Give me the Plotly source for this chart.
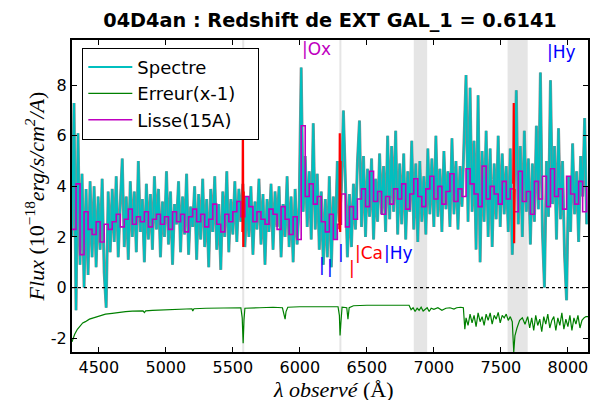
import numpy as np
import plotly.graph_objects as go

# ---------------- data ----------------
wl_start, wl_step = 4300, 15
flux = [
    2.0, 7.3, -0.9, 6.1, 0.9, 4.5, 0.0, 3.9, 0.5, 4.2, 1.2, 4.0, 0.8, 3.6, 1.5, 4.3, 0.6, -0.8, 3.8, 1.4,
    3.9, 1.8, 4.4, 1.2, 3.3, 5.1, 1.6, 3.6, 1.1, 4.2, 2.0, 3.8, 1.4, 5.0, 2.2, 3.5, 1.0, 4.1, 1.9, 3.7,
    1.5, 4.4, 2.3, 3.9, 1.2, 3.4, 2.0, 4.6, 1.7, 3.8, 0.9, 3.3, 2.5, 4.2, 1.4, 3.6, 2.1, 4.5, 1.3, 3.2,
    2.4, 4.0, 1.1, 3.7, 1.9, 4.3, 1.6, 3.5, 0.8, 3.9, 2.2, 4.4, 1.5, 3.3, 0.7, 3.8, 2.0, 4.6, 1.4, 3.5,
    2.1, 4.2, 1.8, 3.9, 2.6, 4.1, 1.6, 3.6, 2.0, 4.0, 1.3, 3.4, 2.3, 4.3, 1.7, 3.7, 0.9, 3.5, 2.2, 4.1,
    1.5, 3.8, 2.4, 4.0, 1.2, 3.3, 2.0, 4.4, 1.6, 3.6, 1.0, 3.9, 1.7, 3.2, 8.7, 3.0, 5.2, 2.4, 4.6, 1.9,
    6.5, 2.3, 4.5, 1.5, 3.8, 0.9, 3.5, 1.2, 4.4, 0.8, 3.6, 1.9, 5.0, 2.6, 3.9, 7.0, 4.2, 1.2, 3.7, 1.6,
    4.1, 2.3, 5.0, 6.6, 2.4, 5.2, 2.0, 4.7, 2.8, 5.1, 1.9, 4.3, 2.6, 5.3, 2.9, 4.8, 2.2, 6.0, 2.7, 5.6,
    3.0, 6.2, 2.1, 4.9, 2.5, 5.3, 1.9, 4.6, 3.0, 5.8, 2.3, 4.9, 1.8, 5.0, 2.6, 4.4, 2.1, 5.5, 2.9, 5.1,
    2.4, 6.0, 2.8, 4.7, 2.2, 5.4, 3.1, 4.6, 2.4, 5.9, 2.9, 5.0, 2.3, 4.8, 3.2, 6.3, 8.4, 2.6, 7.9, 3.0,
    5.8, 1.5, 7.6, 1.0, 5.4, 2.6, 6.2, 2.0, 5.5, 1.6, 4.9, 2.7, 6.0, 2.4, 5.3, 2.9, 4.8, 2.2, 5.5, 1.3,
    4.0, 7.8, 2.5, 5.6, 2.0, 6.2, 3.0, 5.1, 1.7, 4.9, 2.6, 6.4, 3.1, 8.5, 2.2, 0.0, 5.0, 2.8, 8.2, 3.3,
    5.6, 1.9, 6.3, 2.7, 5.0, 1.3, -0.5, 4.4, 2.2, 5.7, 2.9, 4.6, 1.8, 5.2, 3.6, 6.7, 2.5,
]
wavelength = np.arange(len(flux)) * wl_step + wl_start

smooth_start, smooth_step = 4300, 30
smooth = [
    2.3, 4.1, 1.3, 3.0, 2.3, 2.1, 2.6, 1.8, 2.5, 2.3,
    2.6, 2.9, 2.4, 2.7, 3.1, 2.5, 2.8, 2.6, 3.0, 2.4,
    2.7, 2.9, 2.5, 2.8, 2.3, 3.0, 2.6, 2.9, 2.2, 2.8,
    3.1, 2.6, 2.9, 2.4, 2.7, 3.3, 2.5, 2.2, 2.9, 2.6,
    3.0, 3.4, 2.8, 3.6, 3.2, 2.6, 3.0, 2.7, 2.5, 3.1,
    2.9, 2.3, 3.2, 2.7, 2.1, 2.8, 1.9, 6.4, 3.6, 4.1,
    3.3, 3.6, 2.6, 2.2, 2.9, 1.9, 2.5, 3.7, 2.4, 3.2,
    2.7, 3.5, 3.9, 3.2, 4.6, 3.4, 3.8, 2.9, 3.6, 3.3,
    3.9, 3.5, 4.1, 3.1, 3.7, 4.3, 3.6, 3.2, 3.9, 4.4,
    3.5, 4.0, 3.3, 3.8, 4.5, 3.4, 3.9, 3.6, 4.7, 4.1,
    3.7, 3.2, 4.8, 3.5, 4.0, 3.7, 3.3, 4.2, 3.5, 3.9,
    3.0, 4.6, 3.4, 3.8, 2.9, 4.2, 3.5, 4.4, 3.2, 4.7,
    3.6, 3.9, 3.1, 4.4, 3.7, 3.3, 4.2, 3.0, 4.0,
]
smooth_wl = np.arange(len(smooth)) * smooth_step + smooth_start

err_wl = [4300, 4310, 4320, 4340, 4360, 4380, 4400, 4430, 4460, 4500, 4550, 4600, 4650, 4700,
          4750, 4800, 4830, 4840, 4850, 4900, 5000, 5100, 5195, 5201, 5210, 5300, 5400, 5500,
          5560, 5570, 5577, 5583, 5590, 5700, 5800, 5870, 5880, 5890, 5897, 5910, 6000, 6100,
          6200, 6285, 6295, 6300, 6306, 6315, 6350, 6359, 6368, 6400, 6500, 6600, 6700, 6815,
          6830, 6845, 6860, 6875, 6890, 6905, 6920, 6935, 6950, 6965, 6980, 7000, 7030, 7060,
          7090, 7120, 7150, 7170, 7200, 7220, 7231, 7240, 7255, 7270, 7285, 7300, 7315, 7330,
          7345, 7360, 7375, 7390, 7405, 7420, 7435, 7450, 7465, 7480, 7495, 7510, 7525, 7540,
          7555, 7570, 7585, 7596, 7605, 7620, 7640, 7660, 7680, 7700, 7715, 7730, 7745, 7760,
          7775, 7790, 7805, 7820, 7835, 7850, 7865, 7880, 7895, 7910, 7925, 7940, 7955, 7970,
          7985, 8000, 8015, 8030, 8045, 8060, 8075, 8090, 8105, 8120, 8135, 8150]
err = [-2.15, -2.0, -1.85, -1.65, -1.5, -1.4, -1.35, -1.25, -1.2, -1.12, -1.05, -1.02, -0.98, -0.95,
       -0.93, -0.92, -0.92, -0.99, -0.92, -0.9, -0.88, -0.86, -0.84, -0.93, -0.84, -0.82, -0.81, -0.8,
       -0.8, -1.2, -2.2, -1.3, -0.82, -0.8, -0.78, -0.8, -1.05, -1.25, -0.95, -0.78, -0.76, -0.75,
       -0.75, -0.76, -1.1, -1.9, -1.4, -0.78, -0.8, -1.25, -0.8, -0.72, -0.7, -0.7, -0.7, -0.7,
       -0.88, -0.8, -0.95, -0.82, -0.9, -0.78, -0.93, -0.85, -0.8, -0.95, -0.82, -0.86, -0.8, -0.9,
       -0.82, -0.8, -0.85, -0.8, -0.78, -0.8, -1.65, -1.2, -1.5, -1.05, -1.4, -1.1, -1.55, -1.0,
       -1.35, -1.15, -1.5, -1.05, -1.3, -1.0, -1.45, -1.1, -1.25, -0.98, -1.4, -1.1, -1.2, -1.05,
       -1.3, -1.15, -1.35, -2.55, -1.9, -1.6, -1.3, -1.2, -1.45, -1.15, -1.6, -1.2, -1.7, -1.1,
       -1.5, -1.25, -1.75, -1.15, -1.45, -1.05, -1.6, -1.3, -1.15, -1.7, -1.2, -1.5, -1.0, -1.65,
       -1.25, -1.55, -1.1, -1.7, -1.2, -1.45, -1.1, -1.6, -1.3, -1.2, -1.15, -1.15]

bad_wl = [5572, 5575, 5578, 5581, None, 6295, 6298, 6301, 6304, None, 7592, 7596, 7599, 7602]
bad_flux = [2.2, 6.5, 1.6, 3.8, None, 2.3, 6.1, 2.2, 5.0, None, 4.1, 7.3, 1.75, 3.9]

bands = [(5570, 5585), (6295, 6310), (6850, 6950), (7550, 7700)]

line_labels = [
    ("|Ox", 6001, 9.44, "#BF00BF"),
    ("|Hy", 7827, 9.3, "#0000FF"),
    ("|", 6130, 0.88, "#0000FF"),
    ("|", 6190, 0.80, "#0000FF"),
    ("|", 6270, 1.40, "#0000FF"),
    ("|", 6349, 0.76, "#FF0000"),
    ("|Ca", 6398, 1.36, "#FF0000"),
    ("|Hy", 6610, 1.36, "#0000FF"),
]

x_range = [4300, 8150]
y_range = [-2.55, 9.79]
y_ticks = [-2, 0, 2, 4, 6, 8]
x_ticks = [4500, 5000, 5500, 6000, 6500, 7000, 7500, 8000]

title = "04D4an : Redshift de EXT GAL_1 = 0.6141"
x_title = "<i>λ observé</i> (Å)"

# ---------------- figure ----------------
fig = go.Figure()

fig.add_trace(go.Scatter(x=wavelength, y=flux, mode="lines",
                         line=dict(color="#8C8C8C", width=3), showlegend=False, hoverinfo="skip"))
fig.add_trace(go.Scatter(x=wavelength, y=flux, mode="lines", name="Spectre",
                         line=dict(color="#00BFBF", width=1.9)))
fig.add_trace(go.Scatter(x=err_wl, y=err, mode="lines", name="Erreur(x-1)\u00a0\u00a0\u00a0",
                         line=dict(color="#008000", width=1.2)))
fig.add_trace(go.Scatter(x=smooth_wl, y=smooth, mode="lines", name="Lisse(15A)",
                         line=dict(color="#BF00BF", width=1.6, shape="hv")))
fig.add_trace(go.Scatter(x=bad_wl, y=bad_flux, mode="lines",
                         line=dict(color="#FF0000", width=2.2), showlegend=False, connectgaps=False))

shapes = []
for a, b in bands:
    shapes.append(dict(type="rect", xref="x", yref="paper", x0=a, x1=b, y0=0, y1=1,
                       fillcolor="#E5E5E5", line=dict(width=0), layer="below"))
shapes.append(dict(type="line", xref="paper", yref="y", x0=0, x1=1, y0=0, y1=0,
                   line=dict(color="black", width=1.2, dash="dot"), layer="above"))

annotations = []
for txt, lx, ly, col in line_labels:
    annotations.append(dict(text=txt, x=lx, y=ly, xref="x", yref="y", xanchor="left",
                            yanchor="middle", showarrow=False,
                            font=dict(family="DejaVu Sans", size=17, color=col)))
# x-axis title placed below the tick labels
annotations.append(dict(text=x_title, x=0.506, y=-(389 - 352) / 312, xref="paper", yref="paper",
                        xanchor="center", yanchor="middle", showarrow=False,
                        font=dict(family="Liberation Serif", size=22, color="black")))

fig.update_layout(
    width=600, height=400,
    margin=dict(l=72, r=12, t=40, b=48, autoexpand=False),
    paper_bgcolor="white", plot_bgcolor="white",
    title=dict(text="<b>" + title + "</b>", x=0.5, xref="paper", y=1 - 20.5 / 400, yref="container",
               xanchor="center", yanchor="middle",
               font=dict(family="DejaVu Sans", size=19.3, color="black")),
    shapes=shapes, annotations=annotations,
    legend=dict(x=0.02, y=0.975, xanchor="left", yanchor="top", bgcolor="white",
                bordercolor="black", borderwidth=1,
                font=dict(family="DejaVu Sans", size=18, color="black"),
                tracegroupgap=0, itemwidth=44),
    showlegend=True,
)
axis_common = dict(showline=True, linecolor="black", linewidth=2, mirror="ticks",
                   ticks="inside", ticklen=5, tickwidth=1, tickcolor="black",
                   showgrid=False, zeroline=False, automargin=False,
                   tickfont=dict(family="DejaVu Sans", size=16, color="black"))
fig.update_xaxes(range=x_range, tickvals=x_ticks, ticktext=[str(v) for v in x_ticks],
                 **axis_common)
fig.update_yaxes(range=y_range, tickvals=y_ticks, ticktext=[str(v) for v in y_ticks],
                 title=dict(text="<i>Flux</i> (10<sup>−18</sup><i>erg/s/cm<sup>2</sup>/A</i>)",
                            standoff=0,
                            font=dict(family="Liberation Serif", size=22, color="black")),
                 **axis_common)

fig.write_html("out.html", config={"displayModeBar": False},
               post_script="document.body.style.margin='0';document.body.style.overflow='hidden';")
